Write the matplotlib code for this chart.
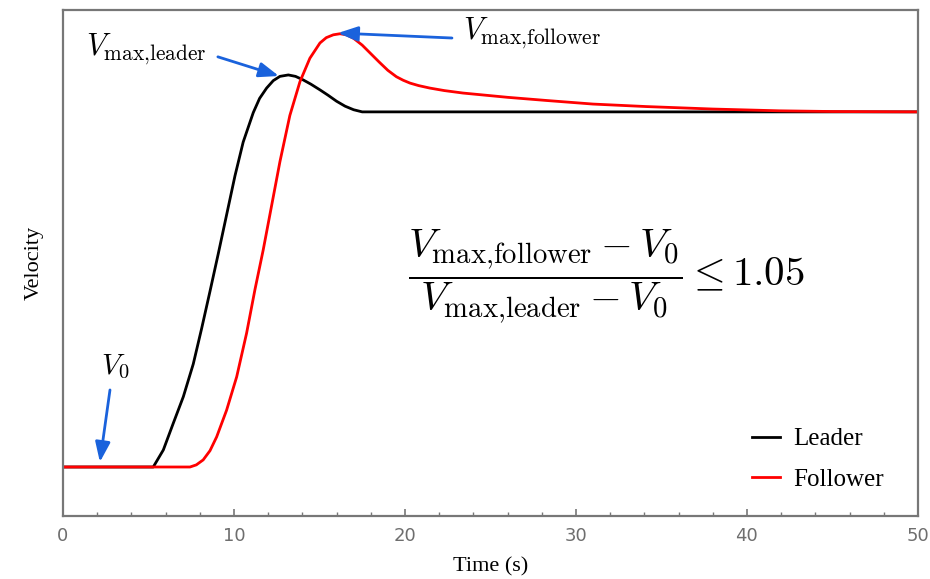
from matplotlib import pyplot as plt

plt.rcParams['mathtext.fontset'] = 'cm'

# leader velocity (V0 = 0, settled value = 1)
t_leader = [0, 5.28, 5.87, 6.45, 7.04, 7.62, 8.11, 8.6, 9.08, 9.57, 10.06, 10.54, 11.13, 11.5, 11.91, 12.3,
            12.69, 13.18, 13.6, 14.05, 14.5, 15.03, 15.5, 16.0, 16.5, 17.0, 17.5, 50]
v_leader = [0, 0, 0.048, 0.123, 0.198, 0.29, 0.39, 0.495, 0.6, 0.71, 0.82, 0.915, 0.998, 1.038, 1.067, 1.088,
            1.1, 1.104, 1.1, 1.09, 1.078, 1.062, 1.047, 1.03, 1.016, 1.006, 1.0, 1.0]

# follower velocity
t_follower = [0, 7.43, 7.8, 8.2, 8.6, 8.99, 9.57, 10.16, 10.74, 11.23, 11.71, 12.1, 12.69, 13.27, 13.86, 14.44,
              15.03, 15.4, 15.81, 16.2, 16.59, 17.0, 17.5, 18.0, 18.5, 19.0, 19.5, 19.9, 20.3, 20.8, 21.46,
              22.3, 23.4, 26, 28.3, 31, 34.1, 38.0, 41.9, 45, 50]
v_follower = [0, 0, 0.006, 0.02, 0.046, 0.085, 0.16, 0.254, 0.377, 0.5, 0.611, 0.71, 0.86, 0.99, 1.085, 1.151,
              1.194, 1.209, 1.217, 1.22, 1.217, 1.207, 1.188, 1.164, 1.14, 1.117, 1.099, 1.089, 1.081, 1.074, 1.067,
              1.06, 1.053, 1.041, 1.032, 1.022, 1.015, 1.008, 1.003, 1.001, 1.0]

blue = '#1a62dc'
gray = '#777777'

fig = plt.figure(figsize=(9.3, 5.79), dpi=100)
ax = fig.add_axes([0.0677, 0.1088, 0.9193, 0.874])

ax.plot(t_leader, v_leader, color='black', linewidth=2, label='Leader')
ax.plot(t_follower, v_follower, color='red', linewidth=2, label='Follower')

ax.set_xlim(0, 50)
ax.set_ylim(-0.138, 1.287)
ax.set_xticks(range(0, 51, 10))
ax.set_xticks(range(0, 51, 2), minor=True)
ax.set_yticks([])
ax.tick_params(axis='x', which='both', direction='in', colors=gray, labelsize=13, labelcolor='#6e6e6e', pad=8)
ax.tick_params(axis='x', which='major', length=5, width=1.2)
ax.tick_params(axis='x', which='minor', length=3, width=1)
for sp in ax.spines.values():
    sp.set_color(gray)
    sp.set_linewidth(1.6)

ax.set_xlabel('Time (s)', family='Liberation Serif', fontsize=16, labelpad=9)
ax.set_ylabel('Velocity', family='Liberation Serif', fontsize=16, labelpad=14)

arrow = dict(arrowstyle='-|>,head_length=1.2,head_width=0.45', color=blue, linewidth=2, shrinkA=0, shrinkB=0)
ax.annotate('', xy=(12.63, 1.101), xytext=(9.06, 1.155), arrowprops=arrow)
ax.annotate('', xy=(16.08, 1.222), xytext=(22.75, 1.208), arrowprops=arrow)
ax.annotate('', xy=(2.16, 0.014), xytext=(2.75, 0.217), arrowprops=arrow)

ax.text(8.42, 1.175, r'$V_{\mathrm{max{,}leader}}$', ha='right', va='center', fontsize=22)
ax.text(23.4, 1.222, r'$V_{\mathrm{max{,}follower}}$', ha='left', va='center', fontsize=22)
ax.text(3.04, 0.282, r'$V_0$', ha='center', va='center', fontsize=21)

ax.text(31.8, 0.535, r'$\dfrac{V_{\mathrm{max{,}follower}} - V_0}{V_{\mathrm{max{,}leader}} - V_0} \leq 1.05$',
        ha='center', va='center', fontsize=29.5)

ax.legend(loc='lower right', frameon=False, prop={'family': 'Liberation Serif', 'size': 18},
          handlelength=1.15, handletextpad=0.5, labelspacing=0.72, bbox_to_anchor=(0.986, 0.005))

fig.savefig('out.png')
